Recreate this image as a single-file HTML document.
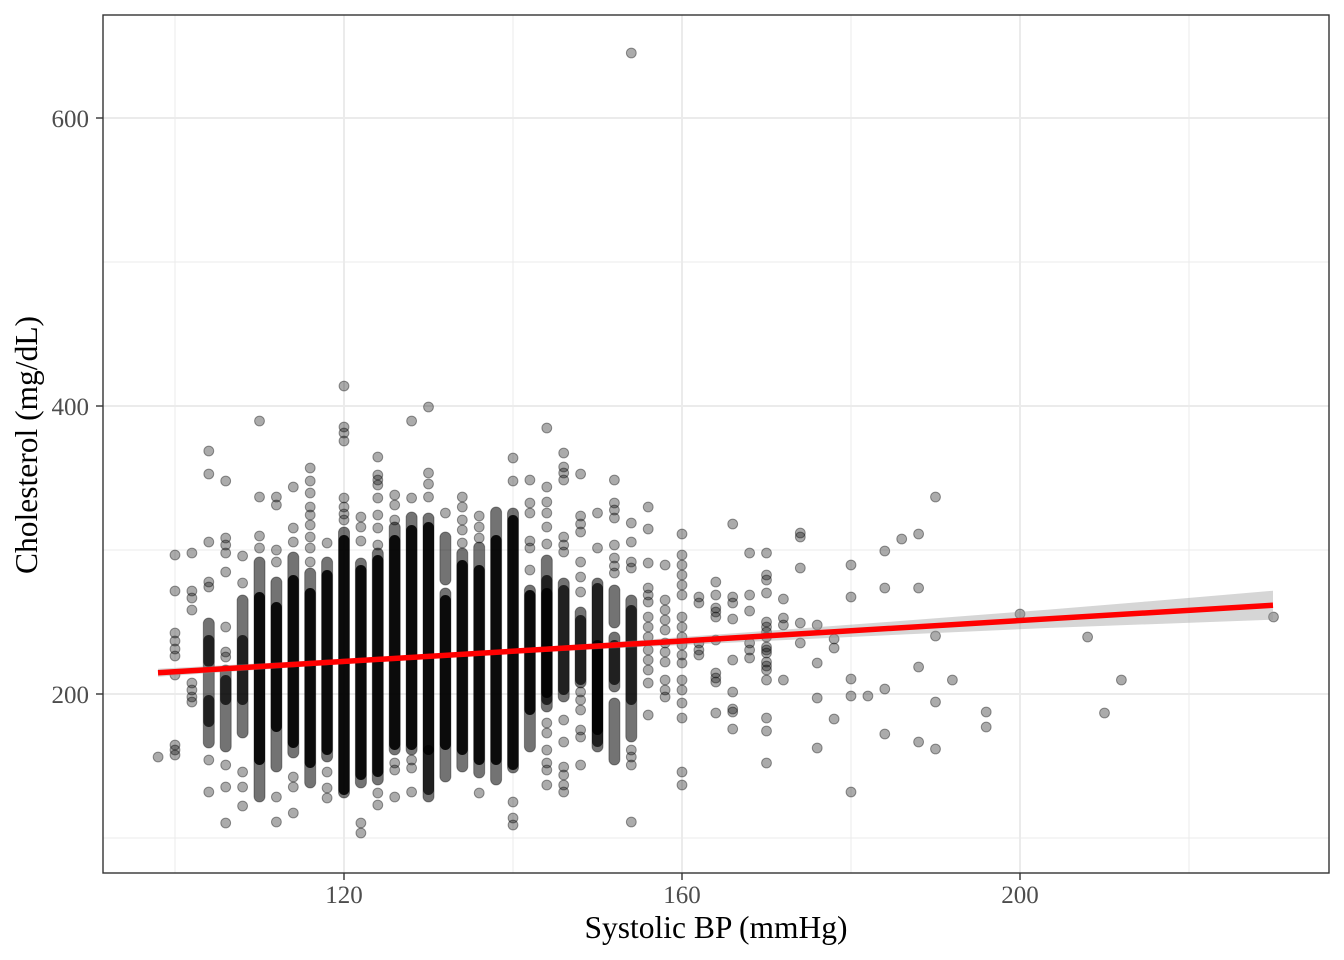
<!DOCTYPE html>
<html>
<head>
<meta charset="utf-8">
<style>
html,body{margin:0;padding:0;background:#fff;}
svg{display:block;}
text{font-family:"Liberation Serif","Times New Roman",serif;}
</style>
</head>
<body>
<svg width="1344" height="960" viewBox="0 0 1344 960" xmlns="http://www.w3.org/2000/svg">
<rect x="0" y="0" width="1344" height="960" fill="#fff"/>
<!-- minor grid -->
<g stroke="#ebebeb" stroke-width="1">
<line x1="175" y1="15" x2="175" y2="873"/>
<line x1="513" y1="15" x2="513" y2="873"/>
<line x1="851" y1="15" x2="851" y2="873"/>
<line x1="1189" y1="15" x2="1189" y2="873"/>
<line x1="103" y1="262" x2="1329" y2="262"/>
<line x1="103" y1="550" x2="1329" y2="550"/>
<line x1="103" y1="838" x2="1329" y2="838"/>
</g>
<!-- major grid -->
<g stroke="#ebebeb" stroke-width="2">
<line x1="344" y1="15" x2="344" y2="873"/>
<line x1="682" y1="15" x2="682" y2="873"/>
<line x1="1020" y1="15" x2="1020" y2="873"/>
<line x1="103" y1="118" x2="1329" y2="118"/>
<line x1="103" y1="406" x2="1329" y2="406"/>
<line x1="103" y1="694" x2="1329" y2="694"/>
</g>

<!-- stacks: light -->
<g fill="#000" fill-opacity="0.55" stroke="#000" stroke-opacity="0.35" stroke-width="1">
<rect x="203.3" y="618" width="11" height="130" rx="5.5"/>
<rect x="220.2" y="665" width="11" height="87" rx="5.5"/>
<rect x="237.1" y="595" width="11" height="143" rx="5.5"/>
<rect x="254" y="557" width="11" height="245" rx="5.5"/>
<rect x="270.9" y="577" width="11" height="195" rx="5.5"/>
<rect x="287.8" y="552" width="11" height="206" rx="5.5"/>
<rect x="304.7" y="568" width="11" height="220" rx="5.5"/>
<rect x="321.6" y="557" width="11" height="205" rx="5.5"/>
<rect x="338.5" y="527" width="11" height="271" rx="5.5"/>
<rect x="355.4" y="558" width="11" height="230" rx="5.5"/>
<rect x="372.3" y="548" width="11" height="237" rx="5.5"/>
<rect x="389.2" y="522" width="11" height="233" rx="5.5"/>
<rect x="406.1" y="512" width="11" height="243" rx="5.5"/>
<rect x="423" y="513" width="11" height="289" rx="5.5"/>
<rect x="439.9" y="532" width="11" height="53" rx="5.5"/>
<rect x="439.9" y="588" width="11" height="194" rx="5.5"/>
<rect x="456.8" y="548" width="11" height="224" rx="5.5"/>
<rect x="473.7" y="542" width="11" height="236" rx="5.5"/>
<rect x="490.6" y="507" width="11" height="278" rx="5.5"/>
<rect x="507.5" y="508" width="11" height="265" rx="5.5"/>
<rect x="524.4" y="585" width="11" height="167" rx="5.5"/>
<rect x="541.3" y="555" width="11" height="157" rx="5.5"/>
<rect x="558.2" y="578" width="11" height="124" rx="5.5"/>
<rect x="575.1" y="607" width="11" height="81" rx="5.5"/>
<rect x="592" y="578" width="11" height="174" rx="5.5"/>
<rect x="608.9" y="585" width="11" height="43" rx="5.5"/>
<rect x="608.9" y="632" width="11" height="60" rx="5.5"/>
<rect x="608.9" y="698" width="11" height="67" rx="5.5"/>
<rect x="625.8" y="595" width="11" height="147" rx="5.5"/>
</g>
<!-- stacks: medium -->
<g fill="#000" fill-opacity="0.72">
<rect x="203.3" y="635" width="11" height="32" rx="5.5"/>
<rect x="203.3" y="695" width="11" height="32" rx="5.5"/>
<rect x="220.2" y="675" width="11" height="30" rx="5.5"/>
<rect x="237.1" y="635" width="11" height="70" rx="5.5"/>
<rect x="423" y="745" width="11" height="50" rx="5.5"/>
<rect x="541.3" y="575" width="11" height="130" rx="5.5"/>
<rect x="558.2" y="585" width="11" height="110" rx="5.5"/>
<rect x="575.1" y="615" width="11" height="70" rx="5.5"/>
<rect x="592" y="583" width="11" height="164" rx="5.5"/>
<rect x="608.9" y="640" width="11" height="45" rx="5.5"/>
<rect x="625.8" y="605" width="11" height="100" rx="5.5"/>
</g>
<!-- stacks: dense core -->
<g fill="#000" fill-opacity="0.9">
<rect x="254" y="592" width="11" height="173" rx="5.5"/>
<rect x="270.9" y="602" width="11" height="130" rx="5.5"/>
<rect x="287.8" y="575" width="11" height="173" rx="5.5"/>
<rect x="304.7" y="588" width="11" height="180" rx="5.5"/>
<rect x="321.6" y="570" width="11" height="185" rx="5.5"/>
<rect x="338.5" y="535" width="11" height="260" rx="5.5"/>
<rect x="355.4" y="565" width="11" height="215" rx="5.5"/>
<rect x="372.3" y="555" width="11" height="222" rx="5.5"/>
<rect x="389.2" y="535" width="11" height="215" rx="5.5"/>
<rect x="406.1" y="525" width="11" height="225" rx="5.5"/>
<rect x="423" y="522" width="11" height="233" rx="5.5"/>
<rect x="439.9" y="595" width="11" height="155" rx="5.5"/>
<rect x="456.8" y="560" width="11" height="195" rx="5.5"/>
<rect x="473.7" y="565" width="11" height="200" rx="5.5"/>
<rect x="490.6" y="535" width="11" height="230" rx="5.5"/>
<rect x="507.5" y="515" width="11" height="255" rx="5.5"/>
<rect x="524.4" y="590" width="11" height="125" rx="5.5"/>
<rect x="541.3" y="588" width="11" height="110" rx="5.5"/>
<rect x="592" y="640" width="11" height="95" rx="5.5"/>
</g>

<!-- individual points -->
<g fill="#000" fill-opacity="0.33" stroke="#000" stroke-opacity="0.4" stroke-width="1">
<circle cx="158.1" cy="757" r="4.9"/>
<circle cx="175" cy="555" r="4.9"/><circle cx="175" cy="591" r="4.9"/><circle cx="175" cy="633" r="4.9"/><circle cx="175" cy="641" r="4.9"/><circle cx="175" cy="649" r="4.9"/><circle cx="175" cy="656" r="4.9"/><circle cx="175" cy="675" r="4.9"/><circle cx="175" cy="745" r="4.9"/><circle cx="175" cy="750" r="4.9"/><circle cx="175" cy="755" r="4.9"/>
<circle cx="191.9" cy="553" r="4.9"/><circle cx="191.9" cy="591" r="4.9"/><circle cx="191.9" cy="598" r="4.9"/><circle cx="191.9" cy="610" r="4.9"/><circle cx="191.9" cy="683" r="4.9"/><circle cx="191.9" cy="690" r="4.9"/><circle cx="191.9" cy="697" r="4.9"/><circle cx="191.9" cy="702" r="4.9"/>
<circle cx="208.8" cy="451" r="4.9"/><circle cx="208.8" cy="474" r="4.9"/><circle cx="208.8" cy="542" r="4.9"/><circle cx="208.8" cy="582" r="4.9"/><circle cx="208.8" cy="587" r="4.9"/><circle cx="208.8" cy="760" r="4.9"/><circle cx="208.8" cy="792" r="4.9"/>
<circle cx="225.7" cy="481" r="4.9"/><circle cx="225.7" cy="538" r="4.9"/><circle cx="225.7" cy="545" r="4.9"/><circle cx="225.7" cy="553" r="4.9"/><circle cx="225.7" cy="572" r="4.9"/><circle cx="225.7" cy="627" r="4.9"/><circle cx="225.7" cy="652" r="4.9"/><circle cx="225.7" cy="657" r="4.9"/><circle cx="225.7" cy="765" r="4.9"/><circle cx="225.7" cy="787" r="4.9"/><circle cx="225.7" cy="823" r="4.9"/>
<circle cx="242.6" cy="556" r="4.9"/><circle cx="242.6" cy="583" r="4.9"/><circle cx="242.6" cy="772" r="4.9"/><circle cx="242.6" cy="787" r="4.9"/><circle cx="242.6" cy="806" r="4.9"/>
<circle cx="259.5" cy="421" r="4.9"/><circle cx="259.5" cy="497" r="4.9"/><circle cx="259.5" cy="536" r="4.9"/><circle cx="259.5" cy="548" r="4.9"/>
<circle cx="276.4" cy="497" r="4.9"/><circle cx="276.4" cy="505" r="4.9"/><circle cx="276.4" cy="550" r="4.9"/><circle cx="276.4" cy="562" r="4.9"/><circle cx="276.4" cy="797" r="4.9"/><circle cx="276.4" cy="822" r="4.9"/>
<circle cx="293.3" cy="487" r="4.9"/><circle cx="293.3" cy="528" r="4.9"/><circle cx="293.3" cy="542" r="4.9"/><circle cx="293.3" cy="777" r="4.9"/><circle cx="293.3" cy="787" r="4.9"/><circle cx="293.3" cy="813" r="4.9"/>
<circle cx="310.2" cy="468" r="4.9"/><circle cx="310.2" cy="481" r="4.9"/><circle cx="310.2" cy="493" r="4.9"/><circle cx="310.2" cy="507" r="4.9"/><circle cx="310.2" cy="515" r="4.9"/><circle cx="310.2" cy="525" r="4.9"/><circle cx="310.2" cy="537" r="4.9"/><circle cx="310.2" cy="548" r="4.9"/><circle cx="310.2" cy="562" r="4.9"/>
<circle cx="327.1" cy="543" r="4.9"/><circle cx="327.1" cy="772" r="4.9"/><circle cx="327.1" cy="788" r="4.9"/><circle cx="327.1" cy="798" r="4.9"/>
<circle cx="344" cy="386" r="4.9"/><circle cx="344" cy="427" r="4.9"/><circle cx="344" cy="433" r="4.9"/><circle cx="344" cy="441" r="4.9"/><circle cx="344" cy="498" r="4.9"/><circle cx="344" cy="507" r="4.9"/><circle cx="344" cy="514" r="4.9"/><circle cx="344" cy="520" r="4.9"/>
<circle cx="360.9" cy="517" r="4.9"/><circle cx="360.9" cy="527" r="4.9"/><circle cx="360.9" cy="541" r="4.9"/><circle cx="360.9" cy="823" r="4.9"/><circle cx="360.9" cy="833" r="4.9"/>
<circle cx="377.8" cy="457" r="4.9"/><circle cx="377.8" cy="475" r="4.9"/><circle cx="377.8" cy="480" r="4.9"/><circle cx="377.8" cy="485" r="4.9"/><circle cx="377.8" cy="498" r="4.9"/><circle cx="377.8" cy="515" r="4.9"/><circle cx="377.8" cy="528" r="4.9"/><circle cx="377.8" cy="545" r="4.9"/><circle cx="377.8" cy="793" r="4.9"/><circle cx="377.8" cy="805" r="4.9"/>
<circle cx="394.7" cy="495" r="4.9"/><circle cx="394.7" cy="505" r="4.9"/><circle cx="394.7" cy="520" r="4.9"/><circle cx="394.7" cy="763" r="4.9"/><circle cx="394.7" cy="770" r="4.9"/><circle cx="394.7" cy="797" r="4.9"/>
<circle cx="411.6" cy="421" r="4.9"/><circle cx="411.6" cy="498" r="4.9"/><circle cx="411.6" cy="760" r="4.9"/><circle cx="411.6" cy="768" r="4.9"/><circle cx="411.6" cy="792" r="4.9"/>
<circle cx="428.5" cy="407" r="4.9"/><circle cx="428.5" cy="473" r="4.9"/><circle cx="428.5" cy="484" r="4.9"/><circle cx="428.5" cy="497" r="4.9"/>
<circle cx="445.4" cy="513" r="4.9"/>
<circle cx="462.3" cy="497" r="4.9"/><circle cx="462.3" cy="507" r="4.9"/><circle cx="462.3" cy="520" r="4.9"/><circle cx="462.3" cy="530" r="4.9"/><circle cx="462.3" cy="543" r="4.9"/>
<circle cx="479.2" cy="516" r="4.9"/><circle cx="479.2" cy="527" r="4.9"/><circle cx="479.2" cy="538" r="4.9"/><circle cx="479.2" cy="793" r="4.9"/>
<circle cx="513" cy="458" r="4.9"/><circle cx="513" cy="481" r="4.9"/><circle cx="513" cy="802" r="4.9"/><circle cx="513" cy="818" r="4.9"/><circle cx="513" cy="825" r="4.9"/>
<circle cx="529.9" cy="480" r="4.9"/><circle cx="529.9" cy="503" r="4.9"/><circle cx="529.9" cy="513" r="4.9"/><circle cx="529.9" cy="541" r="4.9"/><circle cx="529.9" cy="548" r="4.9"/><circle cx="529.9" cy="570" r="4.9"/>
<circle cx="546.8" cy="428" r="4.9"/><circle cx="546.8" cy="487" r="4.9"/><circle cx="546.8" cy="502" r="4.9"/><circle cx="546.8" cy="513" r="4.9"/><circle cx="546.8" cy="527" r="4.9"/><circle cx="546.8" cy="544" r="4.9"/><circle cx="546.8" cy="723" r="4.9"/><circle cx="546.8" cy="733" r="4.9"/><circle cx="546.8" cy="750" r="4.9"/><circle cx="546.8" cy="763" r="4.9"/><circle cx="546.8" cy="770" r="4.9"/><circle cx="546.8" cy="785" r="4.9"/>
<circle cx="563.7" cy="453" r="4.9"/><circle cx="563.7" cy="467" r="4.9"/><circle cx="563.7" cy="473" r="4.9"/><circle cx="563.7" cy="480" r="4.9"/><circle cx="563.7" cy="537" r="4.9"/><circle cx="563.7" cy="545" r="4.9"/><circle cx="563.7" cy="552" r="4.9"/><circle cx="563.7" cy="720" r="4.9"/><circle cx="563.7" cy="742" r="4.9"/><circle cx="563.7" cy="767" r="4.9"/><circle cx="563.7" cy="775" r="4.9"/><circle cx="563.7" cy="785" r="4.9"/><circle cx="563.7" cy="792" r="4.9"/>
<circle cx="580.6" cy="474" r="4.9"/><circle cx="580.6" cy="516" r="4.9"/><circle cx="580.6" cy="524" r="4.9"/><circle cx="580.6" cy="532" r="4.9"/><circle cx="580.6" cy="562" r="4.9"/><circle cx="580.6" cy="577" r="4.9"/><circle cx="580.6" cy="592" r="4.9"/><circle cx="580.6" cy="692" r="4.9"/><circle cx="580.6" cy="700" r="4.9"/><circle cx="580.6" cy="710" r="4.9"/><circle cx="580.6" cy="730" r="4.9"/><circle cx="580.6" cy="737" r="4.9"/><circle cx="580.6" cy="765" r="4.9"/>
<circle cx="597.5" cy="513" r="4.9"/><circle cx="597.5" cy="548" r="4.9"/>
<circle cx="614.4" cy="480" r="4.9"/><circle cx="614.4" cy="503" r="4.9"/><circle cx="614.4" cy="510" r="4.9"/><circle cx="614.4" cy="518" r="4.9"/><circle cx="614.4" cy="545" r="4.9"/><circle cx="614.4" cy="558" r="4.9"/><circle cx="614.4" cy="566" r="4.9"/><circle cx="614.4" cy="573" r="4.9"/>
<circle cx="631.3" cy="53" r="4.9"/><circle cx="631.3" cy="523" r="4.9"/><circle cx="631.3" cy="542" r="4.9"/><circle cx="631.3" cy="562" r="4.9"/><circle cx="631.3" cy="568" r="4.9"/><circle cx="631.3" cy="750" r="4.9"/><circle cx="631.3" cy="757" r="4.9"/><circle cx="631.3" cy="765" r="4.9"/><circle cx="631.3" cy="822" r="4.9"/>
<circle cx="648.2" cy="507" r="4.9"/><circle cx="648.2" cy="529" r="4.9"/><circle cx="648.2" cy="563" r="4.9"/><circle cx="648.2" cy="588" r="4.9"/><circle cx="648.2" cy="595" r="4.9"/><circle cx="648.2" cy="602" r="4.9"/><circle cx="648.2" cy="617" r="4.9"/><circle cx="648.2" cy="627" r="4.9"/><circle cx="648.2" cy="637" r="4.9"/><circle cx="648.2" cy="650" r="4.9"/><circle cx="648.2" cy="660" r="4.9"/><circle cx="648.2" cy="670" r="4.9"/><circle cx="648.2" cy="683" r="4.9"/><circle cx="648.2" cy="715" r="4.9"/>
<circle cx="665.1" cy="565" r="4.9"/><circle cx="665.1" cy="600" r="4.9"/><circle cx="665.1" cy="610" r="4.9"/><circle cx="665.1" cy="620" r="4.9"/><circle cx="665.1" cy="630" r="4.9"/><circle cx="665.1" cy="643" r="4.9"/><circle cx="665.1" cy="652" r="4.9"/><circle cx="665.1" cy="662" r="4.9"/><circle cx="665.1" cy="680" r="4.9"/><circle cx="665.1" cy="690" r="4.9"/><circle cx="665.1" cy="697" r="4.9"/>
<circle cx="682" cy="534" r="4.9"/><circle cx="682" cy="555" r="4.9"/><circle cx="682" cy="565" r="4.9"/><circle cx="682" cy="575" r="4.9"/><circle cx="682" cy="585" r="4.9"/><circle cx="682" cy="595" r="4.9"/><circle cx="682" cy="617" r="4.9"/><circle cx="682" cy="627" r="4.9"/><circle cx="682" cy="637" r="4.9"/><circle cx="682" cy="645" r="4.9"/><circle cx="682" cy="655" r="4.9"/><circle cx="682" cy="663" r="4.9"/><circle cx="682" cy="680" r="4.9"/><circle cx="682" cy="690" r="4.9"/><circle cx="682" cy="703" r="4.9"/><circle cx="682" cy="718" r="4.9"/><circle cx="682" cy="772" r="4.9"/><circle cx="682" cy="785" r="4.9"/>
<circle cx="698.9" cy="597" r="4.9"/><circle cx="698.9" cy="603" r="4.9"/><circle cx="698.9" cy="643" r="4.9"/><circle cx="698.9" cy="650" r="4.9"/><circle cx="698.9" cy="655" r="4.9"/>
<circle cx="715.8" cy="582" r="4.9"/><circle cx="715.8" cy="595" r="4.9"/><circle cx="715.8" cy="608" r="4.9"/><circle cx="715.8" cy="612" r="4.9"/><circle cx="715.8" cy="617" r="4.9"/><circle cx="715.8" cy="640" r="4.9"/><circle cx="715.8" cy="673" r="4.9"/><circle cx="715.8" cy="678" r="4.9"/><circle cx="715.8" cy="682" r="4.9"/><circle cx="715.8" cy="713" r="4.9"/>
<circle cx="732.7" cy="524" r="4.9"/><circle cx="732.7" cy="597" r="4.9"/><circle cx="732.7" cy="603" r="4.9"/><circle cx="732.7" cy="619" r="4.9"/><circle cx="732.7" cy="660" r="4.9"/><circle cx="732.7" cy="692" r="4.9"/><circle cx="732.7" cy="709" r="4.9"/><circle cx="732.7" cy="712" r="4.9"/><circle cx="732.7" cy="729" r="4.9"/>
<circle cx="749.6" cy="553" r="4.9"/><circle cx="749.6" cy="595" r="4.9"/><circle cx="749.6" cy="611" r="4.9"/><circle cx="749.6" cy="643" r="4.9"/><circle cx="749.6" cy="650" r="4.9"/><circle cx="749.6" cy="658" r="4.9"/>
<circle cx="766.5" cy="553" r="4.9"/><circle cx="766.5" cy="575" r="4.9"/><circle cx="766.5" cy="580" r="4.9"/><circle cx="766.5" cy="593" r="4.9"/><circle cx="766.5" cy="622" r="4.9"/><circle cx="766.5" cy="627" r="4.9"/><circle cx="766.5" cy="632" r="4.9"/><circle cx="766.5" cy="637" r="4.9"/><circle cx="766.5" cy="647" r="4.9"/><circle cx="766.5" cy="650" r="4.9"/><circle cx="766.5" cy="653" r="4.9"/><circle cx="766.5" cy="662" r="4.9"/><circle cx="766.5" cy="666" r="4.9"/><circle cx="766.5" cy="670" r="4.9"/><circle cx="766.5" cy="680" r="4.9"/><circle cx="766.5" cy="718" r="4.9"/><circle cx="766.5" cy="731" r="4.9"/><circle cx="766.5" cy="763" r="4.9"/>
<circle cx="783.4" cy="599" r="4.9"/><circle cx="783.4" cy="618" r="4.9"/><circle cx="783.4" cy="625" r="4.9"/><circle cx="783.4" cy="680" r="4.9"/>
<circle cx="800.3" cy="533" r="4.9"/><circle cx="800.3" cy="537" r="4.9"/><circle cx="800.3" cy="568" r="4.9"/><circle cx="800.3" cy="623" r="4.9"/><circle cx="800.3" cy="643" r="4.9"/>
<circle cx="817.2" cy="625" r="4.9"/><circle cx="817.2" cy="663" r="4.9"/><circle cx="817.2" cy="698" r="4.9"/><circle cx="817.2" cy="748" r="4.9"/>
<circle cx="834.1" cy="639" r="4.9"/><circle cx="834.1" cy="648" r="4.9"/><circle cx="834.1" cy="719" r="4.9"/>
<circle cx="851" cy="565" r="4.9"/><circle cx="851" cy="597" r="4.9"/><circle cx="851" cy="679" r="4.9"/><circle cx="851" cy="696" r="4.9"/><circle cx="851" cy="792" r="4.9"/>
<circle cx="867.9" cy="696" r="4.9"/>
<circle cx="884.8" cy="551" r="4.9"/><circle cx="884.8" cy="588" r="4.9"/><circle cx="884.8" cy="689" r="4.9"/><circle cx="884.8" cy="734" r="4.9"/>
<circle cx="901.7" cy="539" r="4.9"/>
<circle cx="918.6" cy="534" r="4.9"/><circle cx="918.6" cy="588" r="4.9"/><circle cx="918.6" cy="667" r="4.9"/><circle cx="918.6" cy="742" r="4.9"/>
<circle cx="935.5" cy="497" r="4.9"/><circle cx="935.5" cy="636" r="4.9"/><circle cx="935.5" cy="702" r="4.9"/><circle cx="935.5" cy="749" r="4.9"/>
<circle cx="952.4" cy="680" r="4.9"/>
<circle cx="986.2" cy="712" r="4.9"/><circle cx="986.2" cy="727" r="4.9"/>
<circle cx="1020" cy="614" r="4.9"/>
<circle cx="1087.6" cy="637" r="4.9"/>
<circle cx="1104.5" cy="713" r="4.9"/>
<circle cx="1121.4" cy="680" r="4.9"/>
<circle cx="1273.5" cy="617" r="4.9"/>
</g>

<!-- confidence ribbon -->
<polygon fill="#999999" fill-opacity="0.4" points="158,668.7 300,661.3 450,652.8 600,643 750,632.1 900,621 1050,609.5 1150,601.2 1273,590.7 1273,619.7 1150,624.2 1050,627.9 900,634.6 750,641.7 600,649 450,657.2 300,666.9 158,676.7"/>
<!-- regression line -->
<line x1="158" y1="672.7" x2="1273" y2="605.2" stroke="#ff0000" stroke-width="5.5"/>

<!-- panel border -->
<rect x="103" y="15" width="1226" height="858" fill="none" stroke="#333333" stroke-width="1.4"/>

<!-- ticks -->
<g stroke="#333333" stroke-width="1.4">
<line x1="96" y1="118" x2="103" y2="118"/>
<line x1="96" y1="406" x2="103" y2="406"/>
<line x1="96" y1="694" x2="103" y2="694"/>
<line x1="344" y1="873" x2="344" y2="880"/>
<line x1="682" y1="873" x2="682" y2="880"/>
<line x1="1020" y1="873" x2="1020" y2="880"/>
</g>

<!-- tick labels -->
<g fill="#4d4d4d" font-size="25">
<text x="89" y="127" text-anchor="end">600</text>
<text x="89" y="415" text-anchor="end">400</text>
<text x="89" y="703" text-anchor="end">200</text>
<text x="344" y="903" text-anchor="middle">120</text>
<text x="682" y="903" text-anchor="middle">160</text>
<text x="1020" y="903" text-anchor="middle">200</text>
</g>

<!-- axis titles -->
<text x="716" y="938" text-anchor="middle" font-size="31.5" fill="#000">Systolic BP (mmHg)</text>
<text transform="translate(37,445) rotate(-90)" x="0" y="0" text-anchor="middle" font-size="31.5" fill="#000">Cholesterol (mg/dL)</text>
</svg>
</body>
</html>
